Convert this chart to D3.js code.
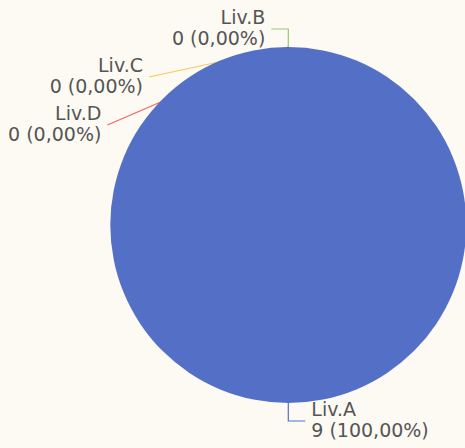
<!DOCTYPE html>
<html>
<head>
<meta charset="utf-8">
<script src="https://cdn.jsdelivr.net/npm/d3@7"></script>
<style>
  html, body { margin: 0; padding: 0; background: #fdfaf3; }
  svg { display: block; }
</style>
</head>
<body>
<svg id="chart" width="465" height="448"></svg>
<script>
const categories = ["Liv.A", "Liv.B", "Liv.C", "Liv.D"];
const values = [9, 0, 0, 0];
const colors = ["#5470c6", "#91cc75", "#fac858", "#ee6666"];

const W = 465, H = 448;
const cx = 288.3, cy = 225, r = 178;
const len1 = 18, len2 = 17, rB = 192, gap = 48, textGap = 6;

const svg = d3.select("#chart");
svg.append("rect").attr("width", W).attr("height", H).attr("fill", "#fdfaf3");

const total = d3.sum(values);
const data = categories.map((c, i) => ({ name: c, value: values[i], color: colors[i] }));
const pie = d3.pie().value(d => d.value).sort(null).startAngle(0).endAngle(2 * Math.PI);
const arcs = pie(data);
const arc = d3.arc().innerRadius(0).outerRadius(r);

const fmt = v => {
  const pct = total ? v / total * 100 : 0;
  return `${v} (${pct.toFixed(2).replace(".", ",")}%)`;
};

// label layout
const labels = arcs.map(a => {
  const mid = (a.startAngle + a.endAngle) / 2;
  const dir = mid > Math.PI ? -1 : 1;
  const p1 = [cx + r * Math.sin(mid), cy - r * Math.cos(mid)];
  const p2 = [cx + (r + len1) * Math.sin(mid), cy - (r + len1) * Math.cos(mid)];
  const p3 = [p2[0] + dir * len2, p2[1]];
  return { a, dir, p1, p2, p3, shifted: false };
});
[-1, 1].forEach(side => {
  const list = labels.filter(l => l.dir === side);
  let prev = null;
  list.forEach(l => {
    if (prev && l.p3[1] < prev.p3[1] + gap) {
      const y = prev.p3[1] + gap;
      const dy = Math.abs(y - cy);
      const dx = Math.sqrt(Math.max(0, rB * rB - dy * dy));
      l.p3 = [cx + side * (dx + len2), y];
      l.shifted = true;
    }
    prev = l;
  });
});

const g = svg.append("g");
// leader lines (under the pie)
g.selectAll("path.line").data(labels).join("path")
  .attr("class", "line")
  .attr("d", l => l.shifted ? d3.line()([l.p1, l.p3]) : d3.line()([l.p1, l.p2, l.p3]))
  .attr("fill", "none")
  .attr("stroke", l => l.a.data.color)
  .attr("stroke-width", 1.2);

// slices
g.append("g").attr("transform", `translate(${cx},${cy})`)
  .selectAll("path").data(arcs).join("path")
  .attr("d", arc)
  .attr("fill", d => d.data.color);

// labels
const t = g.selectAll("text.lbl").data(labels).join("text")
  .attr("class", "lbl")
  .attr("x", l => l.p3[0] + l.dir * textGap)
  .attr("y", l => l.p3[1])
  .attr("text-anchor", l => l.dir < 0 ? "end" : "start")
  .attr("font-family", "DejaVu Sans, sans-serif")
  .attr("font-size", 19)
  .attr("fill", "#555");
t.append("tspan")
  .attr("x", l => l.p3[0] + l.dir * textGap)
  .attr("dy", -5)
  .text(l => l.a.data.name);
t.append("tspan")
  .attr("x", l => l.p3[0] + l.dir * textGap)
  .attr("dy", 21)
  .text(l => fmt(l.a.data.value));
</script>
</body>
</html>
